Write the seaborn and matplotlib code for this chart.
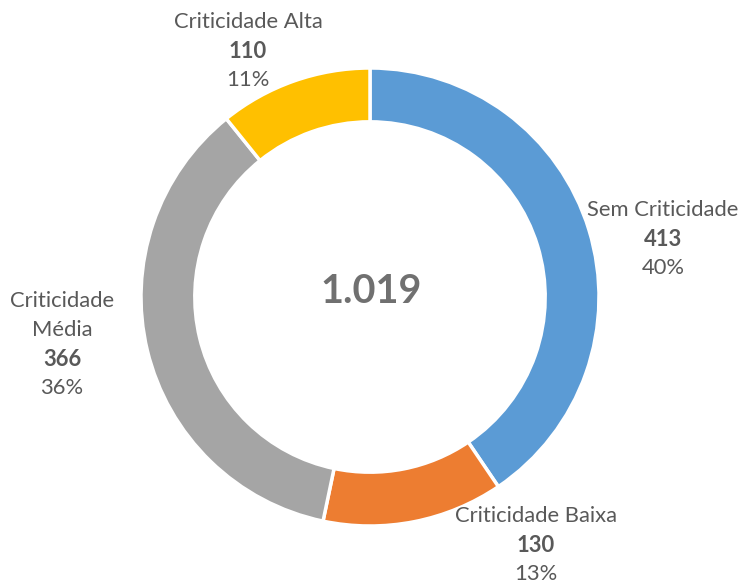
import matplotlib
matplotlib.use("Agg")
import matplotlib.pyplot as plt
import seaborn as sns

categories = ["Sem Criticidade", "Criticidade Baixa", "Criticidade Média", "Criticidade Alta"]
label_lines = [["Sem Criticidade"], ["Criticidade Baixa"], ["Criticidade", "Média"], ["Criticidade Alta"]]
values = [413, 130, 366, 110]
percents = ["40%", "13%", "36%", "11%"]
colors = ["#5B9BD5", "#ED7D31", "#A5A5A5", "#FFC000"]
total_label = "1.019"

sns.set_theme(style="white")
plt.rcParams['font.family'] = ['Lato', 'DejaVu Sans']

W, H = 742, 582
fig = plt.figure(figsize=(W / 100, H / 100), dpi=100)
ax = fig.add_axes([0, 0, 1, 1])
cx, cy, R = 370, 297, 229

ax.pie(values, colors=colors, startangle=90, counterclock=False, radius=1,
       wedgeprops=dict(width=0.235, edgecolor="white", linewidth=2.5))
ax.set_xlim(-cx / R, (W - cx) / R)
ax.set_ylim(-(H - cy) / R, cy / R)
ax.set_aspect("equal")
ax.axis("off")

def px(x, y):
    return (x - cx) / R, (cy - y) / R

# label anchor positions (pixel centers of first line)
anchors = [(663, 210), (536, 516), (62, 301), (248, 22)]
step = 29
steps_last = [29, 28.5, 29, 29]
txtcol = "#595959"
fs = 15.8
for lines, v, pct, (ax_px, ay_px), st in zip(label_lines, values, percents, anchors, steps_last):
    y = ay_px
    for ln in lines:
        ax.text(*px(ax_px, y), ln, ha="center", va="center", fontsize=fs, color=txtcol)
        y += step
    ax.text(*px(ax_px, y), f"{v}", ha="center", va="center", fontsize=fs,
            color=txtcol, fontweight="bold")
    y += st
    ax.text(*px(ax_px, y), pct, ha="center", va="center", fontsize=fs, color=txtcol)

ax.text(*px(371, 291), total_label, ha="center", va="center", fontsize=28.5,
        fontweight="bold", color="#707070")

fig.savefig("out.png", dpi=100)
